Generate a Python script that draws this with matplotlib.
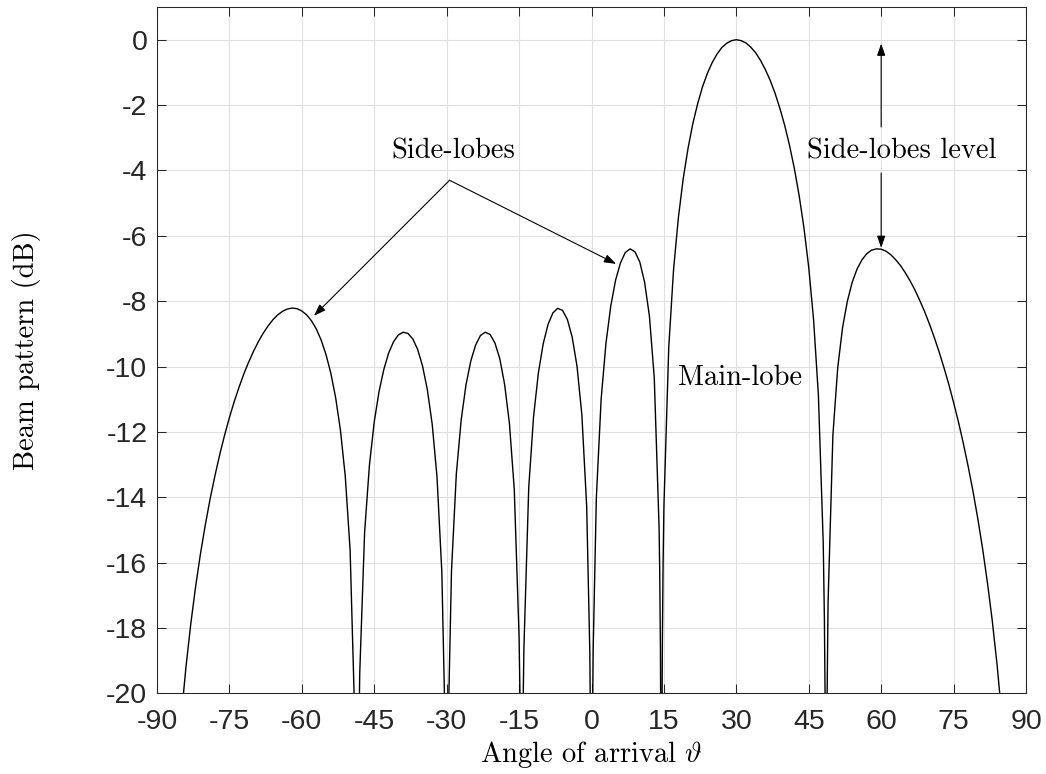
import numpy as np
import matplotlib
matplotlib.use('Agg')
import matplotlib.pyplot as plt


# angle of arrival (deg), denser around the nulls
angles = [-87, -86, -85, -84, -83, -82, -81, -80, -79, -78, -77, -76, -75, -74, -73, -72, -71, -70,
          -69, -68, -67, -66, -65, -64, -63, -62, -61, -60, -59, -58, -57, -56, -55, -54, -53, -52,
          -51, -50, -49, -48.94, -48.79, -48.69, -48.59, -48.49, -48.39, -48.24, -48, -47, -46, -45,
          -44, -43, -42, -41, -40, -39, -38, -37, -36, -35, -34, -33, -32, -31, -30.35, -30.2, -30.1,
          -30, -29.9, -29.8, -29.65, -29, -28, -27, -26, -25, -24, -23, -22, -21, -20, -19, -18, -17,
          -16, -15, -14.83, -14.68, -14.58, -14.48, -14.38, -14.28, -14.13, -14, -13, -12, -11, -10,
          -9, -8, -7, -6, -5, -4, -3, -2, -1, -0.35, -0.2, -0.1, 0, 0.1, 0.2, 0.35, 1, 2, 3, 4, 5, 6,
          7, 8, 9, 10, 11, 12, 13, 14, 14.13, 14.28, 14.38, 14.48, 14.58, 14.68, 14.83, 15, 16, 17, 18,
          19, 20, 21, 22, 23, 24, 25, 26, 27, 28, 29, 30, 31, 32, 33, 34, 35, 36, 37, 38, 39, 40, 41,
          42, 43, 44, 45, 46, 47, 48, 48.24, 48.39, 48.49, 48.59, 48.69, 48.79, 48.94, 49, 50, 51, 52,
          53, 54, 55, 56, 57, 58, 59, 60, 61, 62, 63, 64, 65, 66, 67, 68, 69, 70, 71, 72, 73, 74, 75,
          76, 77, 78, 79, 80, 81, 82, 83, 84, 85, 86, 87]

# beam pattern (dB)
beam_db = [-25.17, -22.68, -20.76, -19.19, -17.87, -16.73, -15.73, -14.85, -14.05, -13.34, -12.69,
           -12.10, -11.56, -11.07, -10.63, -10.22, -9.86, -9.53, -9.24, -8.98, -8.76, -8.57, -8.42,
           -8.31, -8.24, -8.21, -8.23, -8.30,
           -8.42, -8.60, -8.85, -9.19, -9.63, -10.20, -10.95, -11.95, -13.36, -15.62, -20.95, -21.64,
           -24.07, -27.09, -40.00, -27.05, -24.05, -21.62, -19.36, -15.08, -13.02, -11.69, -10.76,
           -10.08, -9.58, -9.24, -9.03, -8.95,
           -8.99, -9.16, -9.48, -9.98, -10.71, -11.76, -13.38, -16.29, -20.81, -23.24, -26.25, -40.00,
           -26.24, -23.23, -20.80, -16.25, -13.29, -11.64, -10.56, -9.83, -9.34, -9.05, -8.95, -9.02,
           -9.28, -9.76, -10.54, -11.74,
           -13.75, -18.27, -19.97, -22.37, -25.32, -40.00, -25.52, -22.45, -19.99, -18.61, -13.70,
           -11.53, -10.19, -9.30, -8.71, -8.36, -8.22, -8.28, -8.56, -9.10, -9.99, -11.47, -14.27,
           -18.72, -21.13, -24.13, -40.00, -24.10,
           -21.08, -18.64, -14.03, -10.99, -9.28, -8.14, -7.35, -6.83, -6.51, -6.40, -6.49, -6.80,
           -7.42, -8.46, -10.34, -14.93, -16.27, -18.69, -21.72, -37.63, -21.45, -18.47, -16.03,
           -14.27, -9.41, -7.03, -5.44, -4.25,
           -3.32, -2.56, -1.95, -1.44, -1.03, -0.70, -0.44, -0.24, -0.11, -0.03, 0.00, -0.03, -0.10,
           -0.23, -0.40, -0.63, -0.91, -1.24, -1.63, -2.09, -2.61, -3.22, -3.93, -4.76, -5.75, -6.97,
           -8.57, -10.88,
           -15.40, -17.72, -20.18, -23.20, -40.00, -23.28, -20.29, -17.89, -17.22, -12.10, -10.04,
           -8.81, -8.00, -7.42, -7.02, -6.74, -6.55, -6.44, -6.40, -6.41, -6.47, -6.58, -6.73, -6.91,
           -7.13, -7.38, -7.66, -7.98,
           -8.32, -8.70, -9.11, -9.55, -10.03, -10.54, -11.10, -11.69, -12.34, -13.04, -13.80, -14.64,
           -15.56, -16.60, -17.76, -19.11, -20.71, -22.65, -25.16]

x_ticks = [-90, -75, -60, -45, -30, -15, 0, 15, 30, 45, 60, 75, 90]
y_ticks = [0, -2, -4, -6, -8, -10, -12, -14, -16, -18, -20]

plt.rcParams['font.family'] = ['Liberation Sans', 'DejaVu Sans']
plt.rcParams['mathtext.fontset'] = 'cm'
plt.rcParams['axes.unicode_minus'] = False
serif = 'cmr10'
fs = 20.5
dark = '#262626'

fig = plt.figure(figsize=(10.46, 7.74), dpi=100)
ax = fig.add_axes([157 / 1046, 1 - 693.4 / 774, 869 / 1046, 686.4 / 774])

ax.plot(angles, beam_db, color='black', linewidth=1.0, zorder=3)

ax.set_xlim(-90, 90)
ax.set_ylim(-20, 1)
ax.set_xticks(x_ticks)
ax.set_yticks(y_ticks)
ax.set_xticklabels([str(t) for t in x_ticks])
ax.set_yticklabels([str(t) for t in y_ticks])
ax.grid(True, color='#dfdfdf', linewidth=0.8)
ax.set_axisbelow(True)
ax.tick_params(direction='in', length=6.5, width=0.75, colors=dark, labelsize=fs,
               top=True, right=True)
ax.tick_params(axis='x', pad=11)
ax.tick_params(axis='y', pad=7)
for s in ax.spines.values():
    s.set_color(dark)
    s.set_linewidth(0.75)

ax.set_xlabel(r'Angle of arrival $\vartheta$', family=serif, fontsize=fs, color='black')
ax.set_ylabel('Beam pattern (dB)', family=serif, fontsize=fs, color='black')
ax.xaxis.set_label_coords(0.5, -0.067)
ax.yaxis.set_label_coords(-0.133, 0.5)

arrow = dict(arrowstyle='-|>,head_length=0.72,head_width=0.25', color='black', lw=0.8,
             shrinkA=0, shrinkB=0, mutation_scale=10)

# side-lobes annotation
ax.text(-28.6, -3.62, 'Side-lobes', family=serif, fontsize=fs, ha='center', va='baseline')
ax.annotate('', xy=(-57.5, -8.45), xytext=(-29.4, -4.3), arrowprops=arrow)
ax.annotate('', xy=(5.1, -6.86), xytext=(-29.4, -4.3), arrowprops=arrow)

# side-lobes level
ax.text(64.3, -3.62, 'Side-lobes level', family=serif, fontsize=fs, ha='center', va='baseline')
ax.annotate('', xy=(60, -0.12), xytext=(60, -2.67), arrowprops=arrow)
ax.annotate('', xy=(60, -6.37), xytext=(60, -4.08), arrowprops=arrow)

ax.text(30.86, -10.56, 'Main-lobe', family=serif, fontsize=fs, ha='center', va='baseline')

fig.savefig('out.png', dpi=100)
